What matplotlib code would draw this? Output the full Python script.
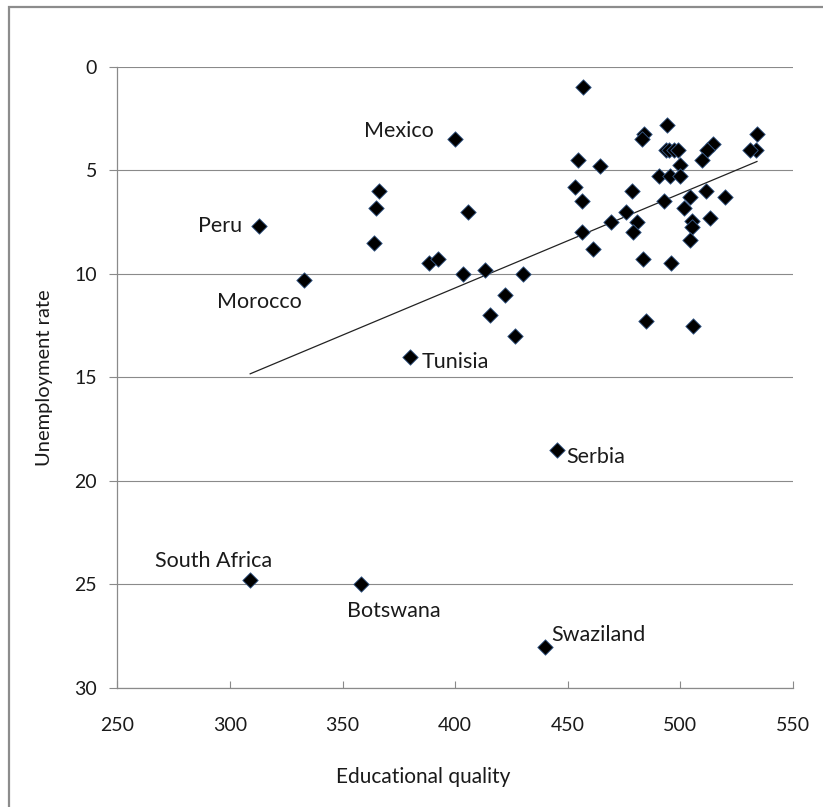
import numpy as np
import matplotlib
matplotlib.use("Agg")
import matplotlib.pyplot as plt
from matplotlib.patches import Rectangle

plt.rcParams['font.family'] = ['Lato', 'DejaVu Sans']

# educational quality (x) and unemployment rate (y)
edu = [456.6, 400, 494, 484, 483, 534, 533.5, 531, 493.5, 495, 497, 499,
       514.5, 512, 509.4, 454.6, 464.2, 500, 490.6, 495.3, 500, 453,
       478.3, 511.3, 519.7, 504.2, 456.4, 492.6, 501.5, 405.5, 476, 513,
       469, 480.8, 505, 505, 479, 456.4, 504.4, 461, 483.2, 496, 388.5,
       392.5, 403.3, 413.2, 430.2, 422, 415.4, 426.5, 484.7, 505.4,
       313, 366, 365, 364, 333, 380, 445, 309, 358, 440]
unemp = [1.0, 3.5, 2.8, 3.25, 3.5, 3.25, 4.0, 4.0, 4.0, 4.0, 4.0, 4.0,
         3.75, 4.0, 4.5, 4.5, 4.8, 4.75, 5.3, 5.3, 5.3, 5.8,
         6.0, 6.0, 6.3, 6.3, 6.5, 6.5, 6.8, 7.0, 7.0, 7.3,
         7.5, 7.5, 7.45, 7.75, 8.0, 8.0, 8.35, 8.8, 9.3, 9.5, 9.5,
         9.3, 10.0, 9.8, 10.0, 11.0, 12.0, 13.0, 12.3, 12.5,
         7.7, 6.0, 6.8, 8.5, 10.3, 14.0, 18.5, 24.8, 25.0, 28.0]

# labelled countries: name, x, y, text offset (px), horizontal alignment
labels = [("Mexico", 400, 3.5, -21, 2.6, "right"),
          ("Peru", 313, 7.7, -17, -5.7, "right"),
          ("Morocco", 333, 10.3, -2, -28.3, "right"),
          ("Tunisia", 380, 14.0, 12, -11.3, "left"),
          ("Serbia", 445, 18.5, 10, -13.4, "left"),
          ("South Africa", 309, 24.8, -95, 13.3, "left"),
          ("Botswana", 358, 25.0, -14, -32.7, "left"),
          ("Swaziland", 440, 28.0, 6, 6, "left")]

W, H = 823, 807
fig = plt.figure(figsize=(W / 100, H / 100), dpi=100)
ax = fig.add_axes([117.3 / W, 1 - 688 / H, 675.7 / W, 621.3 / H])

grey = '#8a8a8a'
ax.scatter(edu, unemp, marker='D', s=62, color='black',
           edgecolors='#3b5f8f', linewidths=0.6, zorder=3)

# linear trendline
k, b = np.polyfit(edu, unemp, 1)
xs = np.array([min(edu), max(edu)])
ax.plot(xs, k * xs + b, color='#222222', lw=0.9, zorder=2)

for name, x, y, dx, dy, ha in labels:
    ax.annotate(name, (x, y), xytext=(dx * 0.72, dy * 0.72),
                textcoords='offset points', ha=ha, va='baseline',
                fontsize=15.5, color='#1a1a1a')

ax.set_xlim(250, 550)
ax.set_ylim(30, 0)
ax.set_xticks(range(250, 551, 50))
ax.set_yticks(range(0, 31, 5))
ax.yaxis.grid(True, color=grey, lw=0.8)
ax.set_axisbelow(True)
for s in ['top', 'right']:
    ax.spines[s].set_visible(False)
for s in ['left', 'bottom']:
    ax.spines[s].set_color(grey)
    ax.spines[s].set_linewidth(0.9)
ax.tick_params(axis='x', direction='in', length=5, color=grey,
               labelsize=14, pad=21, labelcolor='#1a1a1a')
ax.tick_params(axis='y', direction='out', length=5.5, color=grey,
               labelsize=14, pad=9, labelcolor='#1a1a1a')

ax.set_xlabel("Educational quality", fontsize=15, color='#1a1a1a')
ax.xaxis.set_label_coords(0.452, -0.127)
ax.set_ylabel("Unemployment rate", fontsize=14.5, color='#1a1a1a')
ax.yaxis.set_label_coords(-0.0956, 0.5)

# outer chart frame (right and bottom edges fall outside the image)
fig.patches.append(Rectangle((9 / W, -0.05), 1.2, 1 - 7 / H + 0.05,
                             transform=fig.transFigure, fill=False,
                             edgecolor='#8c8c8c', lw=1.6))

fig.savefig("out.png", dpi=100)
